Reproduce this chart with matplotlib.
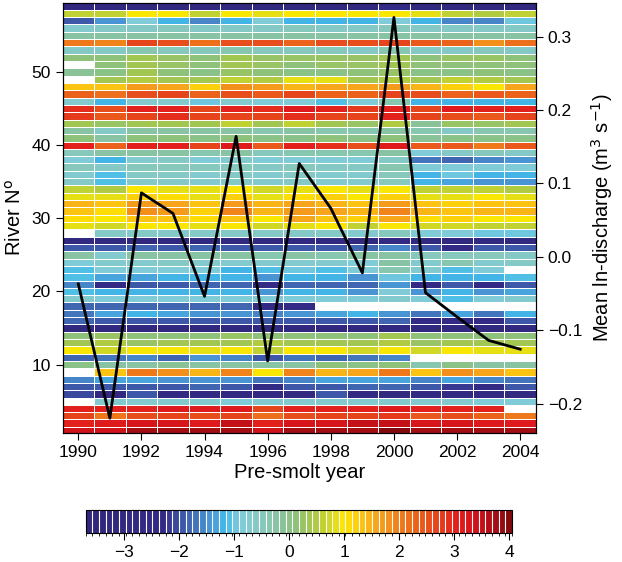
import numpy as np
import matplotlib
matplotlib.use("Agg")
import matplotlib.pyplot as plt
from matplotlib.colors import LinearSegmentedColormap, ListedColormap, BoundaryNorm

plt.rcParams['font.family'] = ['Liberation Sans', 'DejaVu Sans']

years = list(range(1990, 2005))
rivers = list(range(1, 60))
nan = np.nan

# standardised values per river (top river first), one value per year
index_rows = [
    [-3.0, -3.0, -3.0, -3.0, -3.0, -3.0, -3.0, -3.0, -3.0, -3.0, -2.6, -3.0, -3.0, -3.0, -3.0],  # 59
    [0.6, 0.6, 1.0, 1.0, 0.6, 1.0, 0.9, 1.0, 1.0, 1.0, 1.0, 0.9, 0.6, 0.5, 0.6],
    [-2.0, -1.5, -0.8, -1.2, -1.6, -1.2, -0.9, -1.2, -1.2, -1.2, -0.8, -1.2, -1.6, -1.6, -1.0],
    [-0.7, -0.6, -0.6, -0.5, -0.6, -0.6, -0.6, -0.5, -0.6, -0.6, -0.5, -0.6, -0.6, -0.6, -0.6],
    [-0.3, -0.3, -0.2, -0.3, -0.3, -0.2, -0.3, -0.2, -0.3, -0.3, -0.2, -0.3, -0.3, -0.3, -0.3],
    [2.0, 1.9, 2.6, 2.5, 2.2, 2.5, 2.5, 2.3, 2.5, 2.5, 2.6, 2.4, 2.3, 1.8, 2.2],
    [-0.6, -0.6, -0.4, -0.5, -0.5, -0.4, -0.5, -0.5, -0.5, -0.6, -0.4, -0.6, -0.6, -0.5, -0.6],
    [0.1, 0.1, 0.4, 0.2, 0.1, 0.3, 0.2, 0.2, 0.2, 0.2, 0.3, 0.1, 0.2, 0.2, 0.1],
    [nan, 0.1, 0.3, 0.2, 0.1, 0.3, 0.2, 0.1, 0.2, 0.2, 0.3, 0.1, 0.1, 0.1, 0.1],
    [-0.1, 0.0, 0.4, 0.1, 0.0, 0.2, 0.1, 0.0, 0.0, 0.1, 0.2, 0.0, 0.0, 0.1, 0.0],  # 50
    [nan, 0.3, 0.5, 0.4, 0.4, 0.6, 0.5, 0.9, 0.9, 0.3, 0.5, 0.3, 0.6, 0.5, 0.4],
    [1.3, 1.3, 1.7, 1.6, 1.2, 1.8, 1.7, 1.4, 1.6, 1.6, 1.7, 1.4, 1.2, 1.0, 1.6],
    [2.3, 2.2, 2.5, 2.6, 2.3, 2.5, 2.4, 2.6, 2.3, 2.3, 2.7, 2.5, 2.3, 2.4, 2.3],
    [-0.7, -1.2, -0.7, -0.7, -1.0, -0.7, -0.8, -0.8, -1.1, -0.9, -0.4, -1.2, -1.2, -1.2, -1.2],
    [2.9, 2.5, 3.0, 3.0, 2.6, 3.0, 2.9, 3.1, 3.0, 2.8, 3.0, 2.6, 3.1, 3.0, 3.0],
    [2.8, 2.4, 2.7, 2.9, 2.6, 2.6, 2.7, 2.9, 2.6, 2.7, 3.0, 2.6, 2.5, 2.4, 2.7],
    [0.3, 0.2, 0.4, 0.3, 0.3, 0.6, 0.3, 0.6, 0.3, 0.2, 0.5, -0.1, 0.2, 0.2, 0.3],
    [-0.3, -0.6, -0.3, -0.3, -0.3, -0.3, -0.4, -0.3, -0.4, -0.4, -0.3, -0.4, -0.6, -0.4, -0.4],
    [0.1, -0.2, 0.1, 0.1, 0.0, 0.1, 0.0, 0.0, 0.1, 0.0, 0.1, -0.1, 0.0, 0.0, 0.0],
    [3.0, 2.3, 3.0, 3.0, 2.6, 3.2, 2.4, 3.0, 2.9, 2.5, 3.1, 2.4, 2.4, 2.0, 2.4],  # 40
    [-0.5, -0.3, -0.3, -0.3, -0.4, -0.3, -0.5, -0.4, -0.4, -0.4, -0.3, -0.8, -0.6, -0.5, -0.6],
    [-0.9, -1.2, -0.7, -0.6, -0.8, -0.7, -0.8, -0.8, -0.8, -0.8, -0.6, -1.7, -1.8, -1.6, -1.5],
    [-0.5, -0.6, -0.5, -0.5, -0.5, -0.5, -0.6, -0.5, -0.6, -0.6, -0.4, -0.9, -0.9, -0.8, -0.9],
    [-0.7, -1.1, -0.6, -0.6, -0.7, -0.6, -0.7, -0.6, -0.7, -0.7, -0.5, -1.2, -1.0, -1.2, -1.2],
    [-0.6, -1.1, -0.6, -0.6, -0.7, -0.6, -0.7, -0.6, -0.7, -0.7, -0.5, -1.2, -1.3, -1.4, -1.5],
    [0.6, 0.5, 1.0, 0.9, 0.8, 1.0, 0.7, 0.9, 1.0, 0.8, 1.0, 0.6, 0.6, 0.6, 0.5],
    [0.8, 0.9, 1.2, 1.1, 0.9, 1.2, 0.9, 1.1, 1.2, 1.0, 1.2, 0.9, 0.8, 1.0, 0.8],
    [1.4, 1.3, 1.7, 1.6, 1.3, 1.7, 1.4, 1.6, 1.4, 1.3, 1.7, 1.3, 1.2, 1.3, 1.3],
    [1.3, 1.1, 1.8, 1.7, 1.2, 1.9, 1.4, 1.7, 1.6, 1.4, 1.9, 1.4, 1.3, 1.4, 1.4],
    [1.1, 1.0, 1.3, 1.3, 1.1, 1.3, 1.0, 1.6, 1.3, 1.2, 1.6, 1.1, 1.2, 1.0, 1.0],  # 30
    [0.8, 0.7, 1.0, 1.0, 0.9, 1.0, 0.7, 0.9, 1.0, 0.6, 1.0, 0.7, 0.7, 0.6, 0.6],
    [nan, -0.6, -0.6, -0.6, -0.6, -0.6, -0.6, -0.6, -0.6, -0.7, -0.5, -0.8, -0.8, -1.0, -1.0],
    [-3.0, -3.0, -3.0, -3.0, -3.0, -3.0, -3.0, -3.0, -3.0, -3.0, -2.7, -3.0, -3.0, -3.0, -3.0],
    [-2.0, -2.0, -1.8, -1.9, -1.8, -1.9, -1.9, -1.9, -1.9, -1.8, -1.6, -1.9, -2.5, -2.0, -1.9],
    [-0.3, -0.7, -0.3, -0.3, -0.3, -0.3, -0.4, -0.3, -0.4, -0.3, -0.2, -0.5, -0.5, -0.5, -0.6],
    [-0.8, -0.7, -0.7, -0.6, -0.7, -0.7, -0.7, -0.7, -0.7, -0.9, -0.3, -0.7, -0.4, -0.7, -0.6],
    [-1.1, -0.8, -0.9, -0.8, -0.9, -1.2, -1.1, -1.0, -1.1, -0.8, -0.4, -0.7, -1.1, -0.9, nan],
    [-1.1, -1.3, -1.3, -1.2, -1.2, -1.2, -1.5, -1.2, -1.2, -1.5, -1.0, -1.2, -1.2, -1.2, -1.1],
    [-1.6, -2.6, -1.9, -1.9, -1.8, -1.8, -2.5, -1.8, -1.8, -1.8, -1.5, -2.5, -1.9, -2.4, -1.9],
    [-1.1, -1.2, -1.2, -1.2, -1.2, -1.2, -1.5, -1.2, -1.2, -1.4, -0.9, -1.5, -1.2, -1.5, -1.3],  # 20
    [-0.7, -0.9, -0.8, -0.8, -0.8, -0.8, -0.8, -0.8, -0.8, -0.8, -0.7, -0.9, -1.1, -0.8, -0.7],
    [-1.8, -1.8, -1.8, -1.8, -1.8, -1.8, -2.4, -2.6, nan, nan, nan, nan, nan, nan, nan],
    [-1.7, -1.3, -1.2, -1.3, -1.4, -1.4, -1.6, -1.5, -1.3, -1.2, -1.5, -1.7, -1.3, -1.7, -1.2],
    [-1.8, -1.9, -1.9, -1.9, -1.9, -1.9, -2.0, -1.9, -1.9, -1.9, -1.8, -2.4, -2.5, -2.5, -2.0],
    [-3.0, -3.0, -3.0, -3.0, -3.0, -3.0, -3.0, -3.0, -3.0, -3.0, -3.0, -3.0, -3.0, -3.0, -3.0],
    [0.1, 0.2, 0.1, 0.1, 0.1, 0.2, 0.1, 0.1, 0.1, 0.1, 0.4, 0.1, 0.1, 0.1, 0.1],
    [0.3, 0.5, 0.2, 0.4, 0.4, 0.4, 0.5, 0.4, 0.3, 0.3, 0.5, 0.2, 0.3, 0.3, 0.4],
    [1.0, 0.7, 1.0, 1.0, 0.9, 1.0, 0.6, 1.0, 1.0, 0.7, 1.0, 0.7, 1.0, 0.9, 0.8],
    [-1.8, -1.7, -1.6, -1.8, -1.5, -1.6, -1.9, -1.7, -1.8, -1.7, -1.6, nan, nan, nan, nan],
    [0.0, -0.3, -0.2, -0.1, -0.2, -0.2, -0.3, -0.2, 0.1, 0.0, 0.1, -0.4, 0.0, -0.2, -0.3],  # 10
    [nan, 1.3, 2.0, 1.8, 1.4, 1.9, 1.0, 1.9, 1.4, 1.6, 2.0, 1.3, 1.8, 1.6, 1.3],
    [-1.6, -1.3, -1.3, -1.5, -1.5, -1.5, -1.7, -1.6, -1.3, -1.3, -1.3, -1.6, -1.3, -1.6, -1.7],
    [-1.9, -2.0, -1.9, -1.9, -1.8, -1.9, -2.3, -2.0, -1.9, -1.8, -1.8, -1.9, -2.2, -2.3, -2.0],
    [-2.1, -2.8, -2.0, -2.7, -2.7, -2.7, -2.7, -2.8, -2.0, -2.7, -2.8, -2.7, -2.7, -2.7, -2.8],
    [nan, -0.7, -0.7, -0.7, -0.7, -0.8, -0.7, -0.7, -0.7, -0.7, -0.7, -0.7, -0.7, -0.8, -0.8],
    [3.0, 3.0, 3.0, 3.1, 3.1, 3.2, 2.6, 3.0, 3.0, 3.0, 3.1, 3.0, 3.0, 3.0, nan],
    [2.6, 2.1, 2.5, 2.6, 2.5, 2.6, 2.2, 2.5, 2.6, 2.6, 2.8, 2.4, 2.5, 2.3, 2.0],
    [3.0, 3.1, 3.3, 3.3, 3.2, 3.5, 3.0, 3.3, 3.3, 3.5, 3.5, 3.3, 3.3, 3.2, 3.1],
    [3.4, 3.4, 3.8, 3.8, 3.7, 3.8, 3.4, 3.8, 3.7, 3.8, 4.0, 3.7, 3.8, 3.7, 3.7],  # 1
]

# mean ln-discharge per year (right axis)
discharge = [-0.037, -0.220, 0.087, 0.059, -0.054, 0.164, -0.142, 0.127,
             0.066, -0.022, 0.326, -0.049, -0.082, -0.114, -0.126]

anchors = [(-3.7, '#302879'), (-2.3, '#332a86'), (-2.0, '#3c50a4'), (-1.7, '#4374bb'),
           (-1.4, '#4a9bd7'), (-1.15, '#40bbe9'), (-0.9, '#7ecbdb'), (-0.5, '#86c8bd'),
           (-0.2, '#88c3a0'), (0.1, '#8cc17e'), (0.4, '#a3c64d'), (0.7, '#cbd52a'),
           (1.0, '#fde700'), (1.3, '#fcca10'), (1.6, '#f7a51c'), (2.0, '#f07f1b'),
           (2.4, '#ea5c1b'), (2.8, '#e53a1b'), (3.1, '#e21c1c'), (3.5, '#c8101a'),
           (4.05, '#7e0a0e')]
vmin, vmax = -3.7, 4.05
smooth = LinearSegmentedColormap.from_list(
    'river', [((v - vmin) / (vmax - vmin), c) for v, c in anchors])

# 64 discrete colour steps, as in the colour key
bounds = np.linspace(vmin, vmax, 65)
centers = 0.5 * (bounds[:-1] + bounds[1:])
cmap = ListedColormap(smooth((centers - vmin) / (vmax - vmin)))
norm = BoundaryNorm(bounds, cmap.N)

data = np.ma.masked_invalid(np.array(index_rows[::-1]))

fig = plt.figure(figsize=(6.22, 5.62), dpi=100)
ax = fig.add_axes([0.1005, 0.2295, 0.7612, 0.766])

xe = np.arange(years[0] - 0.5, years[-1] + 1.0)
ye = np.arange(rivers[0] - 0.5, rivers[-1] + 1.0)
mesh = ax.pcolormesh(xe, ye, data, cmap=cmap, norm=norm,
                     edgecolor='white', linewidth=0.7)
ax.set_xlim(1989.5, 2004.5)
ax.set_ylim(0.65, 59.5)
ax.set_xticks(range(1990, 2005, 2))
ax.set_yticks([10, 20, 30, 40, 50])
ax.tick_params(labelsize=12.5, length=5, direction='out')
ax.set_xlabel('Pre-smolt year', fontsize=14.5, labelpad=2)
ax.set_ylabel('River N$^{\\mathrm{o}}$', fontsize=14.5, labelpad=5)

# discharge line on a second y axis
ax2 = ax.twinx()
ax2.plot(years, discharge, color='black', lw=2)
ax2.set_ylim(-0.2402, 0.3463)
ax2.set_yticks([-0.2, -0.1, 0.0, 0.1, 0.2, 0.3])
ax2.set_yticklabels(['\u22120.2', '\u22120.1', '0.0', '0.1', '0.2', '0.3'])
ax2.tick_params(labelsize=12.5, length=5, direction='out')
ax2.set_ylabel('Mean ln-discharge (m$^3$ s$^{-1}$)', fontsize=14.5, labelpad=5)

cax = fig.add_axes([0.1378, 0.0516, 0.6854, 0.0409])
cb = fig.colorbar(mesh, cax=cax, orientation='horizontal', drawedges=True,
                  ticks=[-3, -2, -1, 0, 1, 2, 3, 4])
cb.dividers.set_color('white')
cb.dividers.set_linewidth(0.8)
cb.outline.set_linewidth(0.8)
cb.ax.tick_params(labelsize=12.5, length=5)
cb.ax.set_xticklabels(['\u22123', '\u22122', '\u22121', '0', '1', '2', '3', '4'])

fig.savefig('out.png', dpi=100)
